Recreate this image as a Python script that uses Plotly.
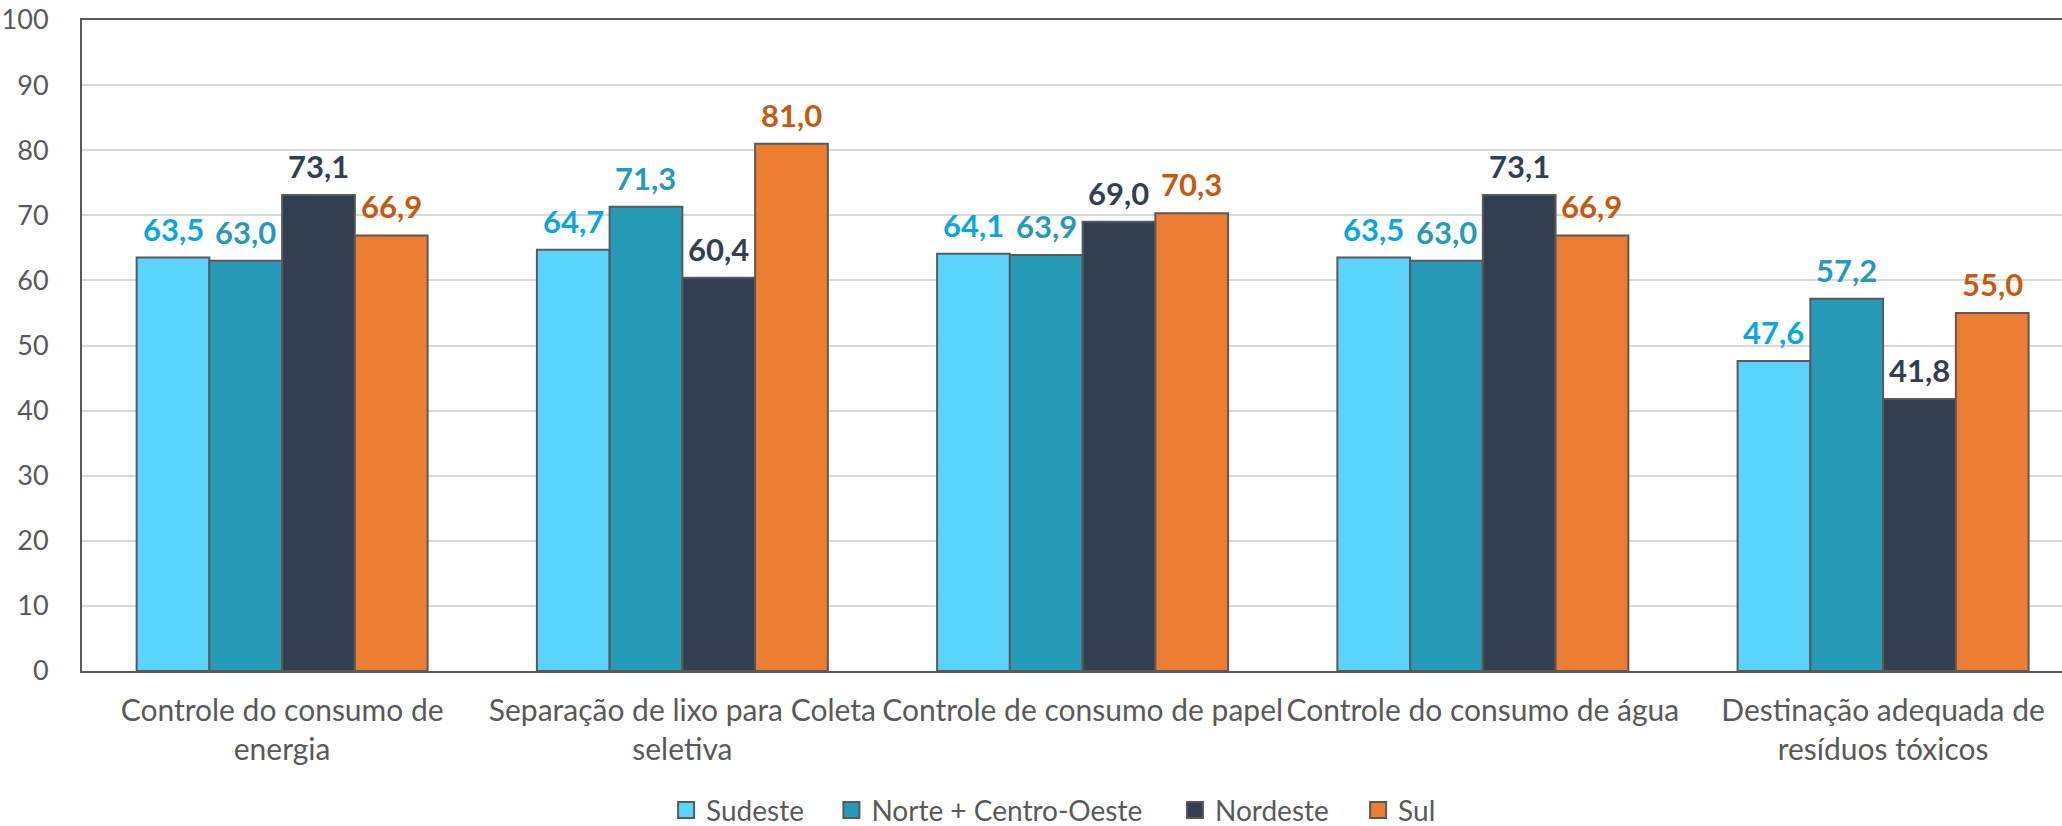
import plotly.graph_objects as go

categories = [
    "Controle do consumo de<br>energia",
    "Separação de lixo para Coleta<br>seletiva",
    "Controle de consumo de papel",
    "Controle do consumo de água",
    "Destinação adequada de<br>resíduos tóxicos",
]
series_names = ["Sudeste", "Norte + Centro-Oeste", "Nordeste", "Sul"]
sudeste = [63.5, 64.7, 64.1, 63.5, 47.6]
norte_co = [63.0, 71.3, 63.9, 63.0, 57.2]
nordeste = [73.1, 60.4, 69.0, 73.1, 41.8]
sul = [66.9, 81.0, 70.3, 66.9, 55.0]
y_ticks = [0, 10, 20, 30, 40, 50, 60, 70, 80, 90, 100]

series_values = [sudeste, norte_co, nordeste, sul]
bar_colors = ["#5BD3FF", "#259BB8", "#333F50", "#ED7D31"]
label_colors = ["#0AA6E0", "#259BB8", "#333F50", "#C55A11"]

BARGAP = 0.273
FONT = "Lato"
legend_ids = ["legend", "legend2", "legend3", "legend4"]
legend_x = [0.295, 0.3785, 0.552, 0.6445]

fig = go.Figure()
x_idx = list(range(len(categories)))
for name, vals, col in zip(series_names, series_values, bar_colors):
    fig.add_trace(go.Bar(
        name=name, x=x_idx, y=vals, showlegend=False,
        marker=dict(color=col, line=dict(color="#595959", width=2)),
    ))

# legend entries (square swatches, larger than default bar swatch)
for name, col, lid in zip(series_names, bar_colors, legend_ids):
    fig.add_trace(go.Scatter(
        name=name, x=[None], y=[None], mode="markers", legend=lid,
        marker=dict(symbol="square", size=16, color=col,
                    line=dict(color="#595959", width=2)),
        hoverinfo="skip",
    ))

# data labels
w = (1 - BARGAP) / len(series_names)
for j, (vals, lc) in enumerate(zip(series_values, label_colors)):
    for i, v in enumerate(vals):
        fig.add_annotation(
            x=i + (j - (len(series_names) - 1) / 2) * w, y=v, xref="x", yref="y",
            text="<b>" + f"{v:.1f}".replace(".", ",") + "</b>",
            showarrow=False, yanchor="bottom", yshift=8,
            font=dict(family=FONT, size=31, color=lc),
        )

legend_common = dict(orientation="h", xanchor="left", y=-0.214, yanchor="middle",
                     font=dict(family=FONT, size=28, color="#595959"),
                     itemwidth=30, itemsizing="trace", bgcolor="rgba(0,0,0,0)")
legend_layout = {lid: dict(legend_common, x=lx) for lid, lx in zip(legend_ids, legend_x)}

fig.update_layout(
    width=2062, height=826,
    margin=dict(l=82, r=0, t=20, b=155, autoexpand=False),
    paper_bgcolor="white", plot_bgcolor="white",
    barmode="group", bargap=BARGAP, bargroupgap=0,
    font=dict(family=FONT, color="#595959"),
    showlegend=True,
    separators=",.",
    **legend_layout,
)
fig.update_xaxes(
    tickmode="array", tickvals=x_idx, ticktext=categories,
    range=[-0.5, 4.447], automargin=False,
    showline=True, linecolor="#595959", linewidth=2, mirror=True,
    showgrid=False, ticks="", ticklabelstandoff=12,
    tickfont=dict(family=FONT, size=30, color="#595959"),
)
fig.update_yaxes(
    range=[0, 100], tickvals=y_ticks, automargin=False,
    showline=True, linecolor="#595959", linewidth=2,
    showgrid=True, gridcolor="#D9D9D9", gridwidth=2,
    ticks="", ticklabelstandoff=26,
    tickfont=dict(family=FONT, size=27, color="#595959"),
    zeroline=False,
)

fig.write_html(
    "out.html",
    config={"displayModeBar": False},
    post_script="document.body.style.margin='0';document.body.style.overflow='hidden';",
)
